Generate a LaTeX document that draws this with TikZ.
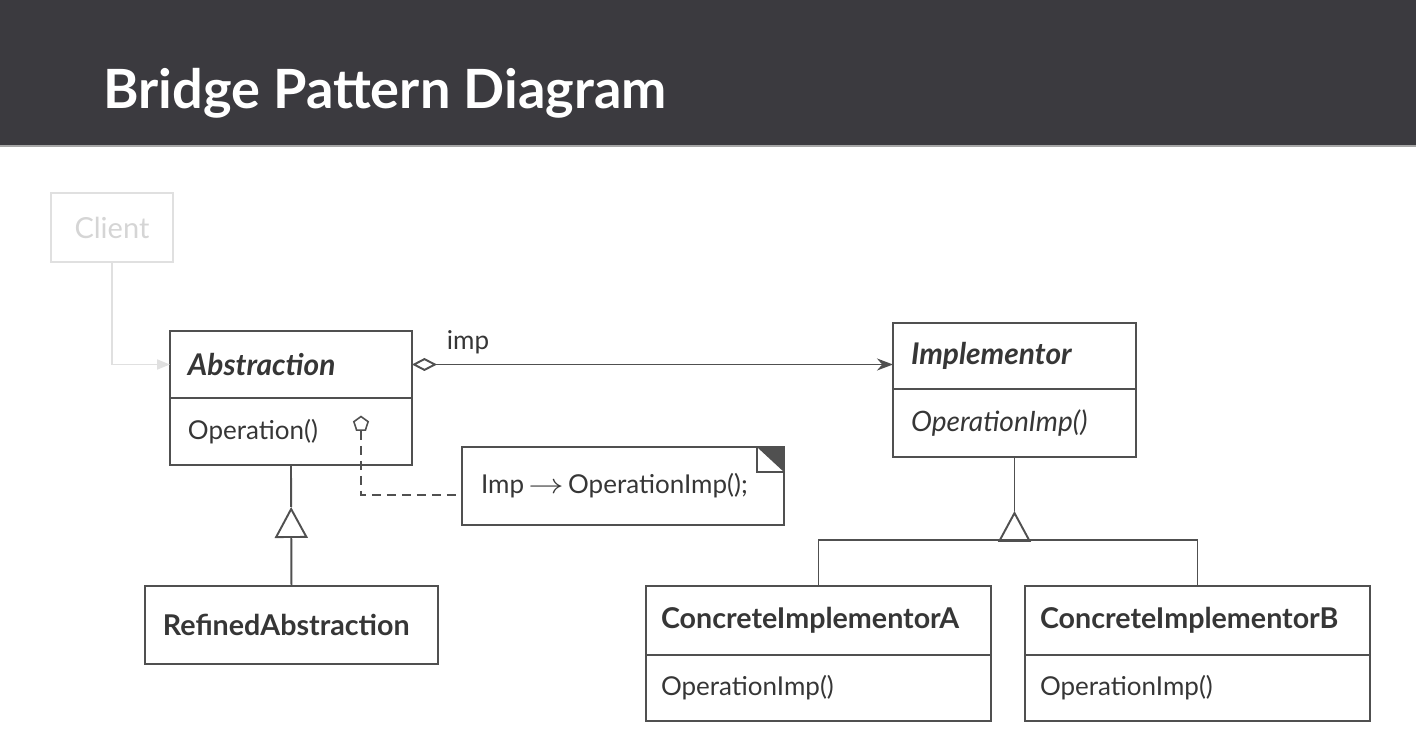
\documentclass[tikz,border=0pt]{standalone}
\usepackage{fontspec}
\setmainfont{Lato}
\usetikzlibrary{positioning,arrows.meta,shapes.geometric,calc}
\definecolor{bandgray}{HTML}{3B3A3F}
\definecolor{linegray}{HTML}{505050}
\definecolor{txtgray}{HTML}{363636}
\definecolor{ghost}{HTML}{E0E0E0}
\begin{document}
\begin{tikzpicture}[x=0.02cm,y=-0.02cm,line join=miter,
    umlbox/.style={draw=linegray,line width=1.1pt,outer sep=0pt,inner xsep=0.36cm,inner ysep=0pt,
      align=left,text=txtgray,font=\fontsize{14.8}{17}\selectfont},
    head/.style={umlbox,text width=#1,minimum height=1.34cm,font=\fontsize{16.3}{19}\selectfont\bfseries},
    ihead/.style={head=#1,font=\fontsize{17}{19}\selectfont\bfseries\itshape},
    body/.style={umlbox,text width=#1,minimum height=1.34cm},
    conn/.style={draw=linegray,line width=1.1pt},
    gen/.style={conn,-{Triangle[open,length=0.62cm,width=0.66cm]}},
    dashline/.style={draw=linegray,line width=1.7pt,dash pattern=on 0.18cm off 0.12cm}]
  \useasboundingbox (0,0) rectangle (1416,747);
  % title band
  \fill[bandgray] (0,0) rectangle (1416,145);
  \fill[gray!70] (0,145) rectangle (1416,147);
  \node[anchor=base west,inner sep=0pt,text=white,font=\fontsize{30.8}{36}\selectfont\bfseries] (title) at (103,108) {Bridge Pattern Diagram};
  % client (greyed out)
  \node[draw=ghost,line width=1.1pt,text=ghost!95!black,minimum width=2.44cm,minimum height=1.38cm,
    anchor=north west,font=\fontsize{16.5}{18}\selectfont] (client) at (50,192) {Client};
  % abstraction side
  \node[ihead=4.12cm,anchor=north west] (abs) at (170,331) {Abstraction};
  \node[body=4.12cm,below=0pt of abs] (absop) {Operation()};
  \node[head=5.14cm,minimum height=1.56cm,anchor=north west] (refabs) at (145,586) {RefinedAbstraction};
  % implementor side
  \node[ihead=4.14cm,minimum height=1.32cm,anchor=north west] (impl) at (893,323) {Implementor};
  \node[body=4.14cm,minimum height=1.36cm,below=0pt of impl,font=\fontsize{16}{18}\selectfont\itshape] (implop) {OperationImp()};
  \node[head=6.3cm,inner xsep=0.3cm,minimum height=1.38cm,anchor=north west] (cia) at (646,586) {ConcreteImplementorA};
  \node[body=6.3cm,inner xsep=0.3cm,minimum height=1.32cm,below=0pt of cia] (ciaop) {OperationImp()};
  \node[head=6.3cm,inner xsep=0.3cm,minimum height=1.38cm,anchor=north west] (cib) at (1025,586) {ConcreteImplementorB};
  \node[body=6.3cm,inner xsep=0.3cm,minimum height=1.32cm,below=0pt of cib] (cibop) {OperationImp()};
  % note
  \node[body=5.68cm,inner xsep=0.38cm,minimum height=1.56cm,anchor=north west] (note) at (462,447) {Imp\,\scalebox{1.4}[1.1]{$\rightarrow$}\,OperationImp();};
  \fill[linegray] (note.north east) -- ++(-0.54cm,0) -- ++(0.54cm,-0.5cm) -- cycle;
  \draw[conn] ([xshift=-0.54cm]note.north east) -- ++(0,-0.5cm) -- ([yshift=-0.5cm]note.north east);
  \node[regular polygon,regular polygon sides=5,draw=linegray,line width=0.9pt,minimum size=0.3cm,inner sep=0pt] (hook) at (361,424) {};
  % connectors
  \draw[ghost,line width=1.1pt,-{Triangle[length=0.26cm,width=0.2cm]}] (client.south) |- (abs.west);
  \draw[conn,{Diamond[open,length=0.5cm,width=0.26cm]}-{Stealth[length=0.32cm,width=0.24cm]}]
    (abs.east) -- (abs.east -| impl.west) node[pos=0.05,above right,text=txtgray,inner sep=0.2cm,font=\fontsize{14.8}{17}\selectfont] (implbl) {imp};
  \draw[dashline] (hook.south) |- ([yshift=-0.18cm]note.west);
  \coordinate (tipa) at ($(absop.south)!0.347!(refabs.north)$);
  \draw[conn] (absop.south) -- (tipa);
  \draw[gen] (refabs.north) -- (tipa);
  \coordinate (tipb) at ($(implop.south)+(0,54)$);
  \coordinate (bar) at ($(implop.south)+(0,83)$);
  \draw[conn] (implop.south) -- (tipb);
  \draw[gen] (bar) -- (tipb);
  \draw[conn] (cia.north) |- (bar) -| (cib.north);
\end{tikzpicture}
\end{document}
